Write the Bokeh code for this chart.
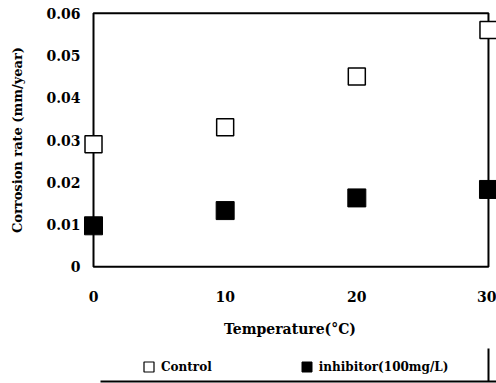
from bokeh.plotting import figure
from bokeh.layouts import column
from bokeh.models import (Legend, LegendItem, FixedTicker, CustomJSTickFormatter, Range1d)
from bokeh.embed import file_html
from bokeh.resources import INLINE

temps = [0, 10, 20, 30]
control = [0.029, 0.033, 0.045, 0.056]
inhibitor = [0.0097, 0.0133, 0.0163, 0.0183]
x_ticks = [0, 10, 20, 30]
y_ticks = [0, 0.01, 0.02, 0.03, 0.04, 0.05, 0.06]
x_lo, x_hi = 0, 30
y_lo, y_hi = 0, 0.06
series_names = ["Control", "inhibitor(100mg/L)"]

FONT = "DejaVu Serif"

p = figure(width=496, height=340, output_backend="svg", toolbar_location=None,
           x_range=Range1d(-0.76, 30.61), y_range=Range1d(-0.0004, 0.0604),
           min_border_left=83, min_border_right=0, min_border_top=11, min_border_bottom=72)
p.xgrid.visible = False
p.ygrid.visible = False
p.outline_line_color = None
p.background_fill_color = "white"
p.border_fill_color = "white"

p.quad(left=[x_lo], right=[x_hi], bottom=[y_lo], top=[y_hi], fill_color=None,
       line_color="black", line_width=2)

p.scatter(temps, control, marker="square", size=17, fill_color="white",
          line_color="black", line_width=1.5)
p.scatter(temps, inhibitor, marker="square", size=18, fill_color="black",
          line_color="black", line_width=1)

for ax in (p.xaxis[0], p.yaxis[0]):
    ax.axis_line_color = None
    ax.major_tick_line_color = None
    ax.minor_tick_line_color = None
    ax.major_tick_out = 0
    ax.minor_tick_out = 0
    ax.major_label_text_font = FONT
    ax.major_label_text_font_style = "bold"
    ax.major_label_text_font_size = "14px"
    ax.major_label_text_color = "black"
    ax.axis_label_text_font = FONT
    ax.axis_label_text_font_style = "bold"
    ax.axis_label_text_color = "black"

p.xaxis.axis_label_text_font_size = "14px"
p.yaxis.axis_label_text_font_size = "13px"
p.xaxis.ticker = FixedTicker(ticks=x_ticks)
p.yaxis.ticker = FixedTicker(ticks=y_ticks)
p.yaxis.formatter = CustomJSTickFormatter(code="return tick == 0 ? '0' : tick.toFixed(2);")
p.xaxis.major_label_standoff = 22
p.yaxis.major_label_standoff = 3
p.xaxis.axis_label = "Temperature(\u00b0C)"
p.yaxis.axis_label = "Corrosion rate (mm/year)"
p.xaxis.axis_label_standoff = 16
p.yaxis.axis_label_standoff = 18

# legend strip below the chart (its frame is aligned with the chart's frame)
lg = figure(width=496, height=43, output_backend="svg", toolbar_location=None,
            x_range=Range1d(83, 496), y_range=Range1d(0, 43),
            min_border=0, min_border_left=83, x_axis_type=None, y_axis_type=None)
lg.xgrid.visible = False
lg.ygrid.visible = False
lg.outline_line_color = None
lg.border_fill_color = "white"

# series renderers for the legend keys (their points fall outside this strip's range)
e1 = lg.scatter(temps, control, marker="square", fill_color="white", line_color="black", line_width=1.2)
e2 = lg.scatter(temps, inhibitor, marker="square", fill_color="black", line_color="black", line_width=1)
lg.segment(x0=[100, 488], y0=[2, 2], x1=[496, 488], y1=[2, 35], line_color="black", line_width=2)

legend = Legend(items=[LegendItem(label=series_names[0], renderers=[e1]),
                       LegendItem(label=series_names[1], renderers=[e2])],
                orientation="horizontal", location=(53, 4),
                border_line_color=None, background_fill_alpha=0,
                label_text_font=FONT, label_text_font_style="bold",
                label_text_color="black",
                label_text_font_size="12px", glyph_width=25, glyph_height=25,
                label_standoff=0, spacing=82, padding=4, margin=0)
lg.add_layout(legend, "center")

layout = column(p, lg, spacing=0)
open("out.html", "w").write(file_html(layout, INLINE))
